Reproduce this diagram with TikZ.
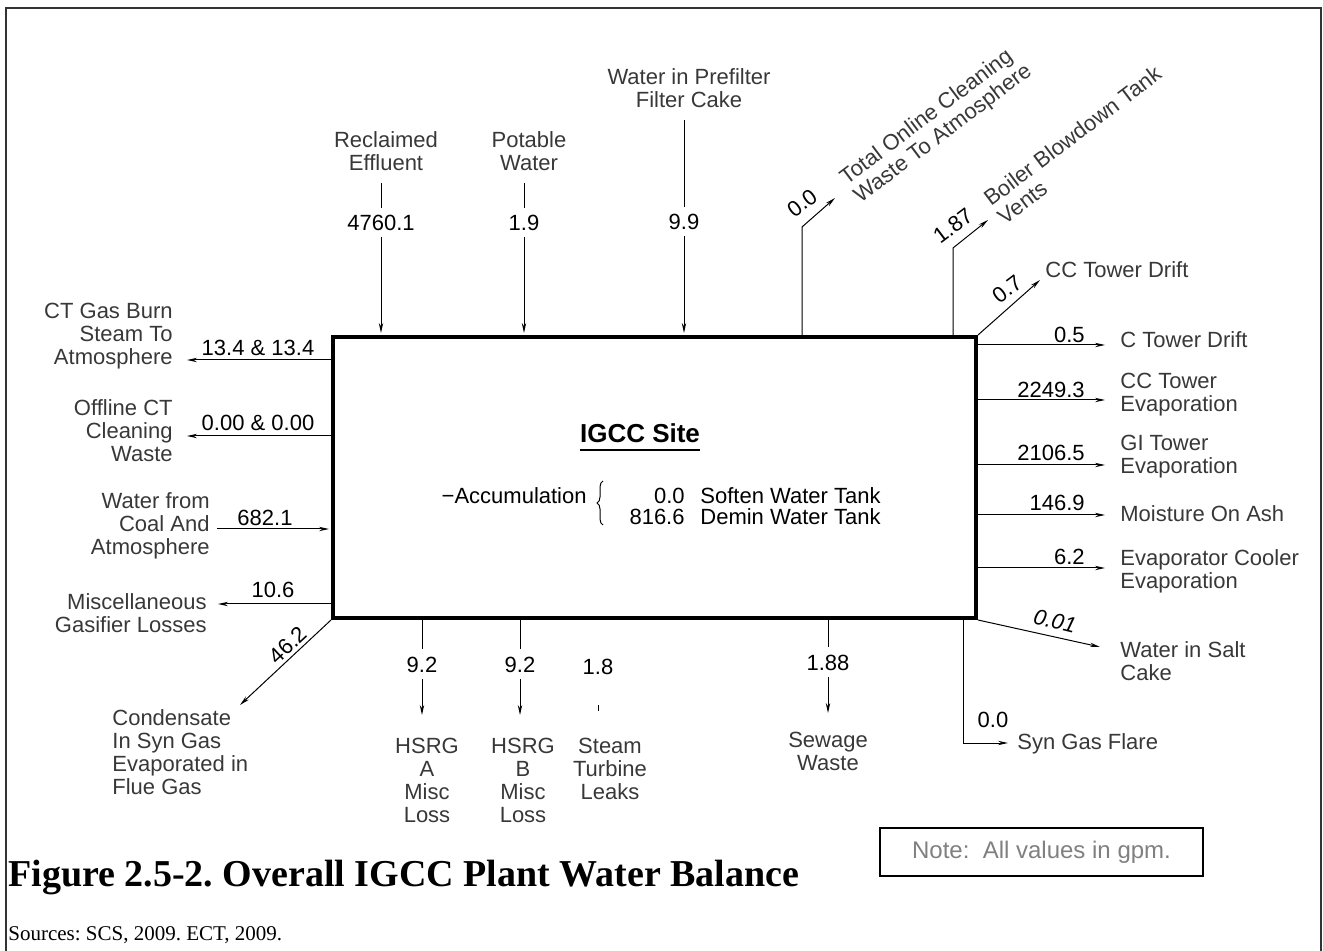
\documentclass[tikz,border=0pt]{standalone}
\usepackage{fontspec}
\setmainfont{Liberation Sans}
\newfontfamily\serifcap{Liberation Serif}
\usetikzlibrary{arrows.meta,decorations.pathreplacing}
\frenchspacing
\begin{document}
\begin{tikzpicture}[x=0.5pt,y=-0.5pt,
  lbl/.style={font=\fontsize{11}{11.5}\selectfont, text=black!78, inner sep=0pt, align=center},
  num/.style={font=\fontsize{11}{12}\selectfont, text=black, inner sep=0pt},
  flow/.style={draw=black, line width=0.5pt},
  arr/.style={flow, -{Stealth[length=5pt,width=2.2pt]}},
  sitebox/.style={draw=black, line width=2pt, inner sep=0pt, minimum width=321.5pt, minimum height=140.5pt},
  gapin/.style={shorten >=3.5pt},
  gapout/.style={shorten <=3pt},
]
\useasboundingbox (0,0) rectangle (1323,951);
% frame
\coordinate (f1) at (6,951);
\coordinate (f2) at (6,8);
\coordinate (f3) at (1321,8);
\coordinate (f4) at (1321,951);
\draw[line width=1.2pt, black!80] (f1) -- (f2) -- (f3) -- (f4);

% main box
\node[sitebox] (site) at (654.5,477.5) {};
\node[inner sep=0pt, font=\bfseries\fontsize{13}{14}\selectfont] (title) at (640,433) {IGCC Site};
\draw[line width=0.6pt] ([yshift=-3.5pt]title.south west) -- ([yshift=-3.5pt]title.south east);
\node[num, anchor=east] (acc) at (587,496) {−Accumulation};
\coordinate (br1) at (603,525);
\coordinate (br2) at (603,481);
\draw[flow, decorate, decoration={brace, amplitude=3pt}] (br1) -- (br2);
\node[num, anchor=east] (a1v) at (685,496) {0.0};
\node[num, anchor=west] (a1t) at (700,496) {Soften Water Tank};
\node[num, anchor=east] (a2v) at (685,517) {816.6};
\node[num, anchor=west] (a2t) at (700,517) {Demin Water Tank};

% ---------- top inputs ----------
\node[lbl] (lRec) at (386,151) {Reclaimed\\Effluent};
\node[num] (nRec) at (381,223) {4760.1};
\coordinate (tRec) at (381,183);
\draw[flow, gapin] (tRec) -- (nRec);
\draw[arr, gapout, shorten >=1pt] (nRec) -- (nRec |- site.north);

\node[lbl] (lPot) at (529,151) {Potable\\Water};
\node[num] (nPot) at (524,223) {1.9};
\coordinate (tPot) at (524,183);
\draw[flow, gapin] (tPot) -- (nPot);
\draw[arr, gapout, shorten >=1pt] (nPot) -- (nPot |- site.north);

\node[lbl] (lPre) at (689,88) {Water in Prefilter\\Filter Cake};
\node[num] (nPre) at (684,222) {9.9};
\coordinate (tPre) at (684,120);
\draw[flow, gapin] (tPre) -- (nPre);
\draw[arr, gapout, shorten >=1pt] (nPre) -- (nPre |- site.north);

% ---------- top right vents ----------
\coordinate (kOnl) at (802,227);
\coordinate (eOnl) at (835,198);
\draw[arr] (kOnl |- site.north) -- (kOnl) -- (eOnl);
\node[num, rotate=37] (nOnl) at (802,203) {0.0};
\node[lbl, rotate=37, anchor=west, align=left] (lOnl) at (850,190) {Total Online Cleaning\\Waste To Atmosphere};

\coordinate (kBoi) at (953,248);
\coordinate (eBoi) at (988,220);
\draw[arr] (kBoi |- site.north) -- (kBoi) -- (eBoi);
\node[num, rotate=37] (nBoi) at (953,226) {1.87};
\node[lbl, rotate=37, anchor=west, align=left] (lBoi) at (993,210) {Boiler Blowdown Tank\\Vents};

\coordinate (eDrf) at (1040,280);
\draw[arr] (site.north east) -- (eDrf);
\node[num, rotate=37] (nDrf) at (1007,289) {0.7};
\node[lbl, anchor=west] (lDrf) at (1045,270) {CC Tower Drift};

% ---------- right outputs ----------
\coordinate (o1) at (1105,345);
\draw[arr] (site.east |- o1) -- (o1);
\node[num, anchor=east] (n1) at (1085,335) {0.5};
\node[lbl, anchor=west, align=left] (l1) at (1120,340) {C Tower Drift};

\coordinate (o2) at (1105,400);
\draw[arr] (site.east |- o2) -- (o2);
\node[num, anchor=east] (n2) at (1085,390) {2249.3};
\node[lbl, anchor=west, align=left] (l2) at (1120,395) {CC Tower\\Evaporation};

\coordinate (o3) at (1105,465);
\draw[arr] (site.east |- o3) -- (o3);
\node[num, anchor=east] (n3) at (1085,453) {2106.5};
\node[lbl, anchor=west, align=left] (l3) at (1120,457) {GI Tower\\Evaporation};

\coordinate (o4) at (1105,515);
\draw[arr] (site.east |- o4) -- (o4);
\node[num, anchor=east] (n4) at (1085,503) {146.9};
\node[lbl, anchor=west, align=left] (l4) at (1120,514) {Moisture On Ash};

\coordinate (o5) at (1105,568);
\draw[arr] (site.east |- o5) -- (o5);
\node[num, anchor=east] (n5) at (1085,557) {6.2};
\node[lbl, anchor=west, align=left] (l5) at (1120,571) {Evaporator Cooler\\Evaporation};

\coordinate (eSal) at (1100,647);
\draw[arr] (site.south east) -- (eSal);
\node[num, rotate=-14, font=\itshape\fontsize{11}{12}\selectfont] (nSal) at (1055,621) {0.01};
\node[lbl, anchor=west, align=left] (lSal) at (1120,661) {Water in Salt\\Cake};

\coordinate (kFla) at (963,743);
\coordinate (eFla) at (1008,743);
\draw[arr] (kFla |- site.south) -- (kFla) -- (eFla);
\node[num] (nFla) at (993,720) {0.0};
\node[lbl, anchor=west] (lFla) at (1017,744) {Syn Gas Flare};

% ---------- left side ----------
\coordinate (eCT) at (187,360);
\draw[arr] (site.west |- eCT) -- (eCT);
\node[num] (nCT) at (258,348) {13.4 \& 13.4};
\node[lbl, anchor=east, align=right] (lCT) at (173,336) {CT Gas Burn\\Steam To\\Atmosphere};

\coordinate (eOff) at (187,436);
\draw[arr] (site.west |- eOff) -- (eOff);
\node[num] (nOff) at (258,423) {0.00 \& 0.00};
\node[lbl, anchor=east, align=right] (lOff) at (173,431) {Offline CT\\Cleaning\\Waste};

\coordinate (sCoa) at (217,529);
\draw[arr, shorten >=1pt] (sCoa) -- (site.west |- sCoa);
\node[num] (nCoa) at (265,518) {682.1};
\node[lbl, anchor=east, align=right] (lCoa) at (210,526) {Water from\\Coal And\\Atmosphere};

\coordinate (eMis) at (218,604);
\draw[arr] (site.west |- eMis) -- (eMis);
\node[num] (nMis) at (273,590) {10.6};
\node[lbl, anchor=east, align=right] (lMis) at (207,613) {Miscellaneous\\Gasifier Losses};

\coordinate (eCon) at (240,705);
\draw[arr] (site.south west) -- (eCon);
\node[num, rotate=43] (nCon) at (288,645) {46.2};
\node[lbl, anchor=west, align=left] (lCon) at (112,752) {Condensate\\In Syn Gas\\Evaporated in\\Flue Gas};

% ---------- bottom outputs ----------
\node[num] (nHA) at (422,665) {9.2};
\coordinate (eHA) at (422,715);
\draw[flow, shorten >=4pt] (site.south -| nHA) -- (nHA);
\draw[arr, gapout] (nHA) -- (eHA);
\node[lbl] (lHA) at (427,780) {HSRG\\A\\Misc\\Loss};

\node[num] (nHB) at (520,665) {9.2};
\coordinate (eHB) at (520,715);
\draw[flow, shorten >=4pt] (site.south -| nHB) -- (nHB);
\draw[arr, gapout] (nHB) -- (eHB);
\node[lbl] (lHB) at (523,780) {HSRG\\B\\Misc\\Loss};

\node[num] (nST) at (598,667) {1.8};
\coordinate (tk1) at (598,705);
\coordinate (tk2) at (598,711);
\draw[flow] (tk1) -- (tk2);
\node[lbl] (lST) at (610,769) {Steam\\Turbine\\Leaks};

\node[num] (nSW) at (828,663) {1.88};
\coordinate (eSW) at (828,713);
\draw[flow, shorten >=4pt] (site.south -| nSW) -- (nSW);
\draw[arr, gapout] (nSW) -- (eSW);
\node[lbl] (lSW) at (828,751) {Sewage\\Waste};

% ---------- note and caption ----------
\node[draw=black, line width=1pt, minimum width=161.5pt, minimum height=24pt, inner sep=0pt,
      font=\fontsize{12}{14}\selectfont, text=black!50] (note) at (1041.5,852) {Note:\ \ All values in gpm.};
\node[anchor=base west, inner sep=0pt, font=\serifcap\bfseries\fontsize{19}{22}\selectfont] (cap) at (8,886) {Figure 2.5-2. Overall IGCC Plant Water Balance};
\node[anchor=base west, inner sep=0pt, font=\serifcap\fontsize{10.5}{12}\selectfont] (src) at (8,940) {Sources: SCS, 2009. ECT, 2009.};
\end{tikzpicture}
\end{document}
